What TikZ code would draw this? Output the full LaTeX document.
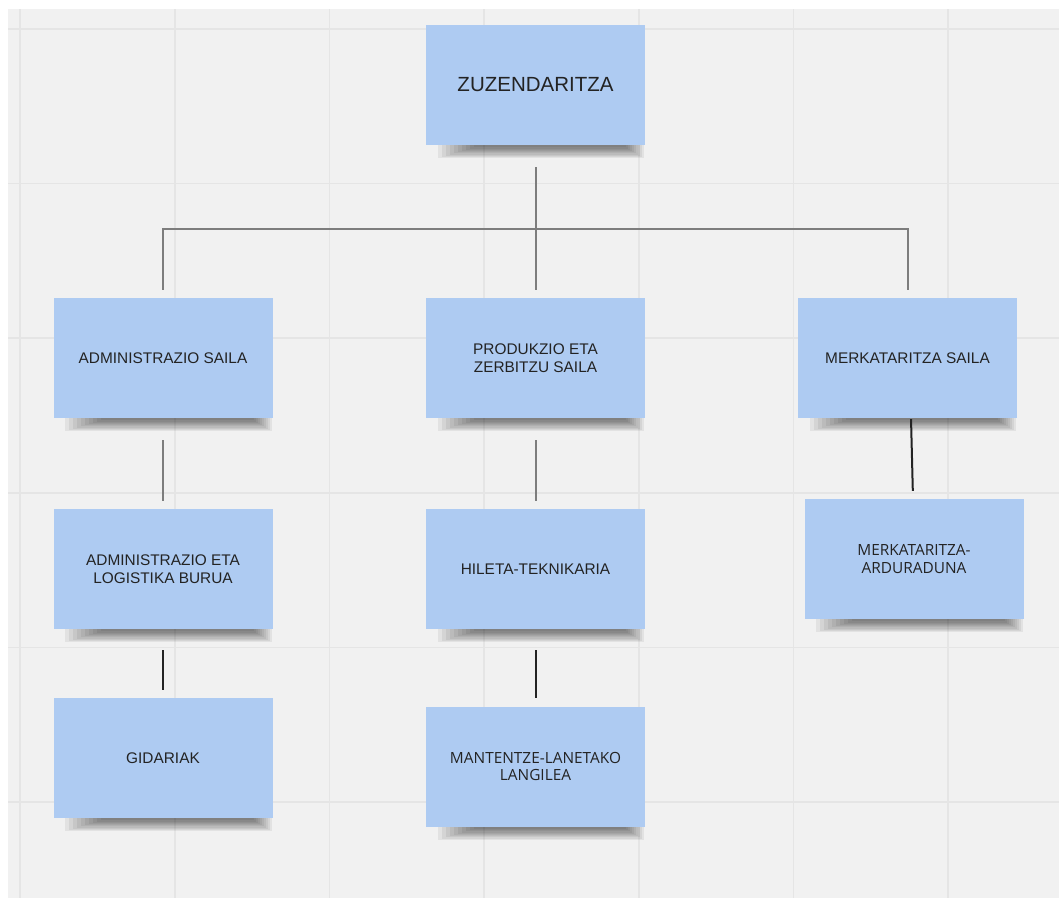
\documentclass[tikz,border=0pt]{standalone}
\usepackage{fontspec}
\setmainfont{Liberation Sans}
\newfontfamily\opensans{Open Sans}
\usetikzlibrary{positioning, backgrounds}
\definecolor{paper}{RGB}{241,241,241}
\definecolor{gridcol}{RGB}{229,229,229}
\definecolor{sticky}{RGB}{174,203,242}
\definecolor{inkcol}{RGB}{35,35,35}
\definecolor{buscol}{RGB}{125,125,125}
\pgfdeclarelayer{grid}
\pgfdeclarelayer{shade}
\pgfsetlayers{grid,shade,main}
\tikzset{
  note/.style={rectangle, fill=sticky, text=inkcol, align=center,
    minimum width=219pt, minimum height=120pt, inner sep=0pt,
    font=\fontsize{15.4}{17.5}\selectfont},
  opennote/.style={note, font=\opensans\fontsize{15.4}{17.5}\selectfont},
  busline/.style={draw=buscol, line width=2pt},
  inkline/.style={draw=inkcol, line width=2pt},
}

\begin{document}
\begin{tikzpicture}[x=1pt, y=-1pt]
    \useasboundingbox (0,0) rectangle (1059,898);

    % grid paper
    \begin{pgfonlayer}{grid}
    \fill[paper] (8,9) rectangle (1059,898);
    \foreach \x in {0,...,6}
    {\draw[gridcol, line width=1.6pt] (20+154.7*\x, 9) -- (20+154.7*\x, 898);}
    \foreach \y in {0,...,5}
    {\draw[gridcol, line width=1.6pt] (8, 29+154.6*\y) -- (1059, 29+154.6*\y);}
    \end{pgfonlayer}

    % sticky notes
    \node[note, font=\fontsize{20.5}{24}\selectfont] (zuz) at (535.5,85) {ZUZENDARITZA};

    \node[note] (admin) at (163,358) {ADMINISTRAZIO SAILA};
    \node[note] (prod) at (535.5,358) {PRODUKZIO ETA\\ZERBITZU SAILA};
    \node[note] (merk) at (907.5,358) {MERKATARITZA SAILA};

    \node[note] (adminlog) at (163,569) {ADMINISTRAZIO ETA\\LOGISTIKA BURUA};
    \node[note] (hileta) at (535.5,569) {HILETA-TEKNIKARIA};
    \node[opennote] (merkard) at (914,559) {MERKATARITZA-\\ARDURADUNA};

    \node[note] (gidari) at (163,758) {GIDARIAK};
    \node[opennote] (mant) at (535.5,766.5) {MANTENTZE-LANETAKO\\LANGILEA};

    % soft shadows under the notes
    \begin{pgfonlayer}{shade}
    \foreach \n in {zuz,admin,prod,merk,adminlog,hileta,merkard,gidari,mant}
    {\foreach \k in {0,...,9}
     {\fill[black, opacity=.06] ([xshift=12pt+4pt*\k, yshift=6pt]\n.south west)
        rectangle ([xshift=-1pt-2pt*\k, yshift=-13pt+1.2pt*\k]\n.south east);}}
    \end{pgfonlayer}

    % connectors
    \coordinate (bus) at (535.5,229);
    \draw[busline, shorten <=22pt] (zuz.south) -- (bus);
    \draw[busline, shorten >=8pt] (bus) -| (admin.north);
    \draw[busline, shorten >=8pt] (bus) -- (prod.north);
    \draw[busline, shorten >=8pt] (bus) -| (merk.north);

    \draw[busline, shorten <=22pt, shorten >=8pt] (admin.south) -- (adminlog.north);
    \draw[busline, shorten <=22pt, shorten >=8pt] (prod.south) -- (hileta.north);
    \draw[inkline, shorten <=1pt, shorten >=8pt] ([xshift=3.5pt]merk.south) -- ([xshift=-1pt]merkard.north);

    \draw[inkline, shorten <=21pt, shorten >=8pt] (adminlog.south) -- (gidari.north);
    \draw[inkline, shorten <=21pt, shorten >=8pt] (hileta.south) -- (mant.north);

\end{tikzpicture}
\end{document}
